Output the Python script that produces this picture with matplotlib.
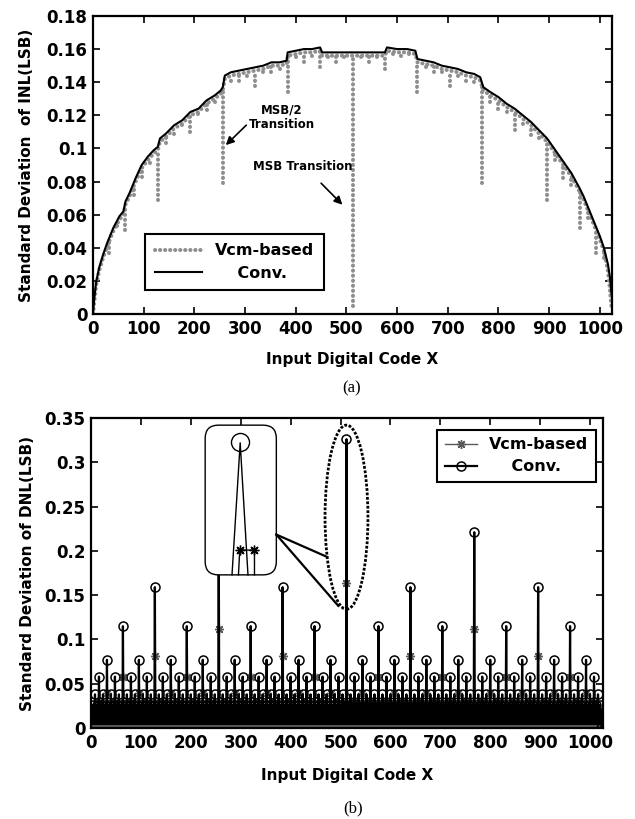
import numpy as np
import matplotlib
matplotlib.use('Agg')
import matplotlib.pyplot as plt
from matplotlib.patches import Ellipse, FancyBboxPatch
from matplotlib.ticker import FormatStrFormatter

plt.rcParams['font.family'] = ['DejaVu Sans']
plt.rcParams['font.weight'] = 'bold'

# ---------------- (a) std of INL ----------------
INL_CODE = [0, 2, 6, 12, 20, 28, 40, 52, 60, 64, 72, 84, 96, 108, 120, 128, 132,
            144, 160, 176, 192, 208, 224, 240, 252, 256, 260, 272, 288, 304, 320,
            336, 352, 368, 382, 384, 400, 416, 432, 448, 452, 480, 512, 544, 576,
            580, 600, 620, 636, 640, 656, 672, 688, 704, 720, 736, 752, 764, 770,
            784, 800, 816, 832, 848, 864, 880, 896, 912, 928, 944, 960, 968, 976,
            984, 992, 1000, 1008, 1016, 1020, 1023]
CONV_INL = [0.000, 0.008, 0.019, 0.028, 0.036, 0.043, 0.052, 0.059, 0.062, 0.068,
            0.073, 0.082, 0.090, 0.095, 0.099, 0.101, 0.106, 0.109, 0.114, 0.117,
            0.122, 0.124, 0.129, 0.132, 0.135, 0.137, 0.144, 0.146, 0.147, 0.148,
            0.149, 0.150, 0.152, 0.152, 0.153, 0.158, 0.159, 0.160, 0.160, 0.161,
            0.158, 0.158, 0.158, 0.158, 0.158, 0.161, 0.160, 0.160, 0.159, 0.154,
            0.153, 0.152, 0.150, 0.149, 0.148, 0.146, 0.145, 0.143, 0.137, 0.134,
            0.131, 0.127, 0.124, 0.120, 0.116, 0.111, 0.106, 0.099, 0.092, 0.085,
            0.076, 0.071, 0.065, 0.059, 0.053, 0.047, 0.040, 0.030, 0.022, 0.012]
VCM_INL = [0.000, 0.006, 0.017, 0.026, 0.034, 0.041, 0.050, 0.057, 0.060, 0.066,
           0.071, 0.080, 0.088, 0.093, 0.097, 0.099, 0.104, 0.107, 0.112, 0.115,
           0.120, 0.122, 0.127, 0.130, 0.133, 0.135, 0.142, 0.144, 0.145, 0.146,
           0.147, 0.148, 0.150, 0.150, 0.151, 0.156, 0.157, 0.158, 0.158, 0.159,
           0.156, 0.156, 0.156, 0.156, 0.156, 0.159, 0.158, 0.158, 0.157, 0.152,
           0.151, 0.150, 0.148, 0.147, 0.146, 0.144, 0.143, 0.141, 0.135, 0.132,
           0.129, 0.125, 0.122, 0.118, 0.114, 0.109, 0.104, 0.097, 0.090, 0.083,
           0.074, 0.069, 0.063, 0.057, 0.051, 0.045, 0.038, 0.026, 0.014, 0.004]

# Vcm-based drops at the bit transition codes
DIP_CODE = [16, 32, 48, 64, 80, 96, 112, 128, 144, 160, 176, 192, 208, 224, 240,
            256, 272, 288, 304, 320, 336, 352, 368, 384, 400, 416, 432, 448, 464,
            480, 496, 512, 528, 544, 560, 576, 592, 608, 624, 640, 656, 672, 688,
            704, 720, 736, 752, 768, 784, 800, 816, 832, 848, 864, 880, 896, 912,
            928, 944, 960, 976, 992, 1008]
DIP_INL = [0.030, 0.037, 0.053, 0.051, 0.072, 0.083, 0.091, 0.069, 0.103, 0.109,
           0.114, 0.110, 0.121, 0.123, 0.128, 0.079, 0.141, 0.141, 0.144, 0.138,
           0.146, 0.146, 0.148, 0.134, 0.155, 0.152, 0.156, 0.149, 0.155, 0.152,
           0.155, 0.005, 0.155, 0.152, 0.155, 0.148, 0.157, 0.156, 0.157, 0.134,
           0.149, 0.146, 0.146, 0.138, 0.144, 0.141, 0.140, 0.079, 0.128, 0.124,
           0.122, 0.111, 0.115, 0.108, 0.106, 0.069, 0.093, 0.082, 0.078, 0.052,
           0.058, 0.037, 0.034]

# ---------------- (b) std of DNL, per transition bit ----------------
N_CODES = 1024
CONV_DNL_BY_BIT = [0.010, 0.017, 0.026, 0.038, 0.058, 0.077, 0.115, 0.159, 0.221, 0.326]
VCM_DNL_BY_BIT = [0.005, 0.009, 0.013, 0.019, 0.029, 0.040, 0.058, 0.081, 0.112, 0.164]

codes = np.arange(N_CODES)
tbit = np.zeros(N_CODES, dtype=int)
for c in range(1, N_CODES):
    b = 0
    while (c >> b) & 1 == 0:
        b += 1
    tbit[c] = b
conv_dnl = np.array(CONV_DNL_BY_BIT)[tbit]
vcm_dnl = np.array(VCM_DNL_BY_BIT)[tbit]
conv_dnl[-1] = 0.0
vcm_dnl[-1] = 0.0

GRAY = '#8e8e8e'
DOTS = (0, (0.05, 1.2))

fig = plt.figure(figsize=(6.35, 8.19), dpi=100)
ax1 = fig.add_axes([0.1465, 0.6166, 0.8173, 0.3639])
ax2 = fig.add_axes([0.1433, 0.1111, 0.8063, 0.3785])

# ---- top panel ----
vcm_line, = ax1.plot(INL_CODE, VCM_INL, color=GRAY, lw=2.9, linestyle=DOTS,
                     dash_capstyle='round', label='Vcm-based', zorder=2)
dip_top = np.interp(DIP_CODE, INL_CODE, VCM_INL)
ax1.vlines(DIP_CODE, DIP_INL, dip_top, colors=GRAY, linewidth=2.9,
           linestyles=[DOTS], capstyle='round', zorder=2)
conv_line, = ax1.plot(INL_CODE, CONV_INL, color='k', lw=1.5, label='    Conv.', zorder=3)

ax1.set_xlim(0, 1024)
ax1.set_ylim(0, 0.18)
ax1.set_xticks(np.arange(0, 1001, 100))
ax1.set_yticks(np.arange(0, 0.181, 0.02))
ax1.yaxis.set_major_formatter(FormatStrFormatter('%g'))
ax1.set_xlabel('Input Digital Code X', fontsize=11, fontweight='bold')
ax1.set_ylabel('Standard Deviation  of INL(LSB)', fontsize=11, fontweight='bold')
ax1.xaxis.set_label_coords(0.5, -0.128)
ax1.yaxis.set_label_coords(-0.113, 0.5)

ax1.annotate('MSB/2\nTransition', xy=(262, 0.102), xytext=(373, 0.119),
             ha='center', va='center', fontsize=8.5, fontweight='bold',
             linespacing=1.15,
             arrowprops=dict(arrowstyle='-|>', color='k', lw=1.2,
                             mutation_scale=12, shrinkA=0, shrinkB=0,
                             relpos=(0.0, 0.3)))
ax1.text(414, 0.089, 'MSB Transition', ha='center', va='center',
         fontsize=8.5, fontweight='bold')
ax1.annotate('', xy=(492, 0.066), xytext=(450, 0.079),
             arrowprops=dict(arrowstyle='-|>', color='k', lw=1.2,
                             mutation_scale=12, shrinkA=0, shrinkB=0))

leg1 = ax1.legend(handles=[vcm_line, conv_line], loc='lower left',
                  bbox_to_anchor=(0.1, 0.08), borderaxespad=0, fontsize=11.5,
                  handlelength=3.0, fancybox=False, framealpha=1,
                  edgecolor='k', borderpad=0.6, labelspacing=0.45)
leg1.get_frame().set_linewidth(1.5)

# ---- bottom panel ----
vcm_d, = ax2.plot(codes, vcm_dnl, color='#5a5a5a', lw=1.0, marker=(8, 2, 0),
                  markersize=6.5, markeredgewidth=1.0, label='Vcm-based', zorder=2)
conv_d, = ax2.plot(codes, conv_dnl, color='k', lw=1.6, marker='o',
                   markersize=6.5, markerfacecolor='none', markeredgewidth=1.1,
                   label='    Conv.', zorder=3)

ax2.set_xlim(0, 1026)
ax2.set_ylim(0, 0.35)
ax2.set_xticks(np.arange(0, 1001, 100))
ax2.set_yticks(np.arange(0, 0.351, 0.05))
ax2.yaxis.set_major_formatter(FormatStrFormatter('%g'))
ax2.set_xlabel('Input Digital Code X', fontsize=11, fontweight='bold')
ax2.set_ylabel('Standard Deviation of DNL(LSB)', fontsize=11, fontweight='bold')
ax2.xaxis.set_label_coords(0.5, -0.13)
ax2.yaxis.set_label_coords(-0.11, 0.5)

# dotted ellipse round the MSB transition and the zoomed sketch of it
ax2.add_patch(Ellipse((512, 0.238), 86, 0.208, fill=False, ec='k', lw=2.0,
                      linestyle=(0, (1, 0.6)), zorder=5))
asp = (0.8063 * 635) / (0.3785 * 819)
box = FancyBboxPatch((0.223, 0.494), 0.139, 0.483,
                     boxstyle='round,pad=0,rounding_size=0.026',
                     mutation_aspect=asp, transform=ax2.transAxes,
                     fc='white', ec='k', lw=1.0, zorder=6)
ax2.add_patch(box)
ax2.plot([0.2754, 0.2914, 0.3066], [0.494, 0.920, 0.494], color='k', lw=1.0,
         transform=ax2.transAxes, zorder=7, clip_on=False)
ax2.plot([0.2914], [0.923], marker='o', markersize=13, mfc='none', mec='k',
         mew=1.0, transform=ax2.transAxes, zorder=7, clip_on=False)
ax2.plot([0.288, 0.2905, 0.3193, 0.3193], [0.494, 0.574, 0.574, 0.494],
         color='k', lw=1.0, marker=(8, 2, 0), markevery=[1, 2], markersize=7,
         mew=1.0, transform=ax2.transAxes, zorder=7, clip_on=False)
for x_end, y_end in [(0.461, 0.552), (0.483, 0.394)]:
    ax2.plot([0.362, x_end], [0.624, y_end], color='k', lw=1.6,
             transform=ax2.transAxes, zorder=7, clip_on=False)

leg2 = ax2.legend(handles=[vcm_d, conv_d], loc='upper right',
                  bbox_to_anchor=(0.986, 0.961), borderaxespad=0, fontsize=11.5,
                  handlelength=2.0, fancybox=False, framealpha=1,
                  edgecolor='k', borderpad=0.45, labelspacing=0.45)
leg2.get_frame().set_linewidth(1.5)
leg2.set_zorder(8)

for ax in (ax1, ax2):
    ax.tick_params(direction='in', top=True, right=True, length=5, width=1.2,
                   labelsize=12, pad=4)
    for t in ax.get_xticklabels() + ax.get_yticklabels():
        t.set_fontweight('bold')
    for s in ax.spines.values():
        s.set_linewidth(1.6)

fig.text(0.554, 0.526, '(a)', ha='center', va='center', fontsize=12,
         family='Liberation Serif', fontweight='normal')
fig.text(0.556, 0.0134, '(b)', ha='center', va='center', fontsize=12,
         family='Liberation Serif', fontweight='normal')

fig.savefig('out.png', dpi=100)
